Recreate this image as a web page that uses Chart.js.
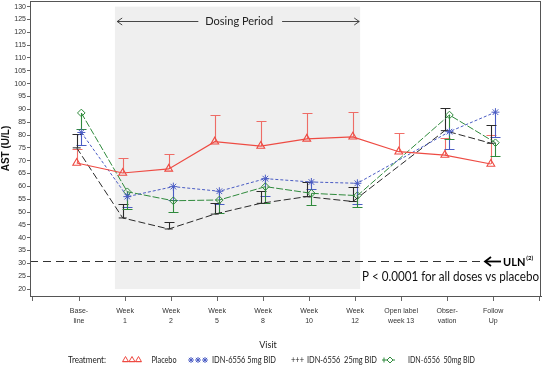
<!DOCTYPE html>
<html><head><meta charset="utf-8">
<script src="https://cdn.jsdelivr.net/npm/chart.js@4/dist/chart.umd.min.js"></script>
<style>html,body{margin:0;padding:0;background:#fff}</style>
</head><body>
<canvas id="c" width="544" height="365"></canvas>
<script>
// ---- data ----
const categories = [['Base-','line'],['Week','1'],['Week','2'],['Week','5'],['Week','8'],['Week','10'],['Week','12'],['Open label','week 13'],['Obser-','vation'],['Follow','Up']];
const yTicks = [20,25,30,35,40,45,50,55,60,65,70,75,80,85,90,95,100,105,110,115,120,125,130];
const placebo      = [69.1, 65.2, 66.8, 77.4, 75.7, 78.5, 79.3, 73.5, 72.2, 68.7];
const placeboErr   = [74.6, 71.1, 72.6, 87.8, 85.5, 88.6, 89.1, 80.9, 79.0, 80.0];
const dose5        = [81.0, 56.0, 59.9, 58.1, 63.0, 61.7, 61.2, null, 81.3, 88.9];
const dose5Err     = [76.1, 52.0, 54.5, 53.1, 56.2, 58.9, 53.0, null, 74.5, 79.4];
const dose25       = [75.0, 47.7, 43.4, 49.2, 53.4, 56.0, 54.1, null, 81.7, 76.8];
const dose25Err    = [80.4, 53.1, 46.2, 53.6, 58.3, 61.8, 59.9, null, 90.7, 83.9];
const dose50       = [88.6, 57.9, 54.4, 54.7, 59.9, 57.3, 56.4, null, 87.8, 77.0];
const dose50Err    = [82.4, 51.2, 50.1, 49.8, 53.6, 52.7, 52.1, null, 78.4, 71.8];
const seriesNames  = ['Placebo','IDN-6556 5mg BID','IDN-6556  25mg BID','IDN-6556  50mg BID'];
const ulnValue = 31;
const dosingStart = 1.78, dosingEnd = 7.11;

// ---- styles ----
const RED = '#ee4b43', BLUE = '#4a5cc4', BLACK = '#2a2a2a', GREEN = '#2f8a3c';
function pts(arr, off){ return arr.map((v,i)=>({x:i+1+off, y:v})); }

const datasets = [
  {label:seriesNames[0], data:pts(placebo,-0.05), err:placeboErr, borderColor:RED, backgroundColor:'rgba(0,0,0,0)', borderWidth:1.2, pointStyle:'triangle', pointRadius:4.5, pointBorderWidth:1.1, pointBorderColor:RED, pointBackgroundColor:'rgba(0,0,0,0)', errColor:'rgba(238,75,67,0.8)'},
  {label:seriesNames[1], data:pts(dose5,0.05), err:dose5Err, borderColor:BLUE, borderDash:[3,2], borderWidth:1, pointStyle:'star', pointRadius:4, pointBorderWidth:1, pointBorderColor:BLUE, pointBackgroundColor:BLUE, spanGaps:true, errColor:BLUE},
  {label:seriesNames[2], data:pts(dose25,-0.05), err:dose25Err, borderColor:BLACK, borderDash:[7,3], borderWidth:1, pointStyle:'line', pointRadius:4, pointBorderWidth:1, pointBorderColor:BLACK, pointBackgroundColor:BLACK, spanGaps:true, errColor:BLACK},
  {label:seriesNames[3], data:pts(dose50,0.05), err:dose50Err, borderColor:GREEN, borderDash:[7,2], borderWidth:1, pointStyle:'rectRot', pointRadius:3.8, pointBorderWidth:1, pointBorderColor:GREEN, pointBackgroundColor:'rgba(0,0,0,0)', spanGaps:true, errColor:GREEN}
];
datasets.forEach(d=>{ d.tension=0; d.fill=false; });

// draw left-aligned text at a given font size, squeezed horizontally to a target width
function fitText(ctx, txt, x, y, w, size){
  ctx.font = size + 'px Lato';
  const m = ctx.measureText(txt).width;
  const sx = w / m;
  ctx.save();
  ctx.translate(x, y);
  ctx.scale(sx, 1);
  ctx.textAlign = 'left';
  ctx.fillText(txt, 0, 0);
  ctx.restore();
}

const decor = {
  id:'decor',
  beforeDatasetsDraw(chart){
    const {ctx, chartArea:a, scales:{x,y}} = chart;
    ctx.save();
    // dosing period shading
    const x1=x.getPixelForValue(dosingStart), x2=x.getPixelForValue(dosingEnd);
    const y1=y.getPixelForValue(130), y2=y.getPixelForValue(20);
    ctx.fillStyle='#efefef';
    ctx.fillRect(x1,y1,x2-x1,y2-y1);
    // ULN line
    const yu=Math.round(y.getPixelForValue(ulnValue))+0.5;
    ctx.strokeStyle='#333'; ctx.lineWidth=1; ctx.setLineDash([8,5]);
    ctx.beginPath(); ctx.moveTo(a.left,yu); ctx.lineTo(x.getPixelForValue(9.78),yu); ctx.stroke();
    ctx.setLineDash([]);
    // ULN arrow
    const ax1=485, ax2=501;
    ctx.strokeStyle='#000'; ctx.lineWidth=1.8;
    ctx.beginPath(); ctx.moveTo(ax2,yu); ctx.lineTo(ax1+1,yu); ctx.stroke();
    ctx.beginPath(); ctx.moveTo(ax1+6,yu-4.5); ctx.lineTo(ax1,yu); ctx.lineTo(ax1+6,yu+4.5); ctx.stroke();
    ctx.fillStyle='#000';
    ctx.font='bold 11px Lato'; ctx.textBaseline='middle'; ctx.textAlign='left';
    ctx.fillText('ULN',503,yu+0.5);
    const w=ctx.measureText('ULN').width;
    ctx.font='bold 6px Lato'; ctx.fillText('(2)',503+w+1,yu-3.5);
    // P value text
    ctx.fillStyle='#111';
    fitText(ctx,'P < 0.0001 for all doses vs placebo',362,y.getPixelForValue(24.6),177,12.5);
    // dosing period arrow
    const ya=Math.round(y.getPixelForValue(124.6))+0.5;
    const d1=x.getPixelForValue(1.83), d2=x.getPixelForValue(7.09);
    ctx.font='11px Lato'; ctx.textAlign='center'; ctx.fillStyle='#222';
    const cx=(d1+d2)/2+1;
    ctx.fillText('Dosing Period',cx,ya);
    const tw=ctx.measureText('Dosing Period').width;
    ctx.strokeStyle='#333'; ctx.lineWidth=0.9;
    ctx.beginPath(); ctx.moveTo(d1,ya); ctx.lineTo(cx-tw/2-7,ya); ctx.moveTo(cx+tw/2+9,ya); ctx.lineTo(d2,ya); ctx.stroke();
    ctx.beginPath(); ctx.moveTo(d1+5,ya-3.5); ctx.lineTo(d1,ya); ctx.lineTo(d1+5,ya+3.5);
    ctx.moveTo(d2-5,ya-3.5); ctx.lineTo(d2,ya); ctx.lineTo(d2-5,ya+3.5); ctx.stroke();
    // error bars
    chart.data.datasets.forEach(ds=>{
      ds.data.forEach((p,i)=>{
        const e=ds.err[i]; if(p.y==null||e==null) return;
        const px=Math.round(x.getPixelForValue(p.x))+0.5;
        const py=y.getPixelForValue(p.y), pe=Math.round(y.getPixelForValue(e))+0.5;
        ctx.strokeStyle=ds.errColor; ctx.lineWidth=1.1;
        ctx.beginPath(); ctx.moveTo(px,py); ctx.lineTo(px,pe); ctx.moveTo(px-5,pe); ctx.lineTo(px+5,pe); ctx.stroke();
      });
    });
    ctx.restore();
  },
  afterDraw(chart){
    const {ctx, chartArea:a} = chart;
    ctx.save();
    ctx.strokeStyle='#555'; ctx.lineWidth=1;
    ctx.strokeRect(a.left+0.5,a.top+0.5,a.right-a.left-1,a.bottom-a.top);
    // axis title Visit
    ctx.fillStyle='#222'; ctx.font='9px Lato'; ctx.textAlign='center'; ctx.textBaseline='middle';
    ctx.fillText('Visit',268,345);
    // legend
    const ly=360;
    fitText(ctx,'Treatment:',68,ly,38,9.5);
    const H = Chart.helpers;
    function pt(style,r,xx,col,fillCol){
      ctx.strokeStyle=col; ctx.fillStyle=fillCol; ctx.lineWidth=1;
      if(H && H.drawPoint) H.drawPoint(ctx,{pointStyle:style,radius:r,borderWidth:1,rotation:0},xx,ly);
    }
    // placebo
    ctx.strokeStyle=RED; ctx.lineWidth=1; ctx.beginPath(); ctx.moveTo(123,ly+1.5); ctx.lineTo(141,ly+1.5); ctx.stroke();
    [125.5,132,138.5].forEach(xx=>pt('triangle',3.5,xx,RED,'rgba(0,0,0,0)'));
    ctx.fillStyle='#222'; fitText(ctx,seriesNames[0],151.5,ly,25,9.5);
    [191,198,205].forEach(xx=>pt('star',3,xx,BLUE,BLUE));
    ctx.fillStyle='#222'; fitText(ctx,seriesNames[1],212,ly,64,9.5);
    fitText(ctx,'+++',291,ly,13,9.5);
    fitText(ctx,seriesNames[2],307,ly,70,9.5);
    ctx.strokeStyle=GREEN; ctx.lineWidth=1; ctx.beginPath(); ctx.moveTo(382,ly); ctx.lineTo(395,ly); ctx.stroke();
    ctx.beginPath(); ctx.moveTo(384,ly-2.5); ctx.lineTo(384,ly+2.5); ctx.stroke();
    pt('rectRot',3,390,GREEN,'#fff');
    ctx.fillStyle='#222'; fitText(ctx,seriesNames[3],408,ly,67,9.5);
    ctx.restore();
  }
};

new Chart(document.getElementById('c'), {
  type:'line',
  data:{datasets},
  options:{
    responsive:false, animation:false, events:[],
    layout:{padding:{top:1,right:3,left:0,bottom:0}, autoPadding:false},
    plugins:{legend:{display:false}, tooltip:{enabled:false}},
    scales:{
      x:{type:'linear', min:-0.065, max:11.04,
        afterBuildTicks(s){ s.ticks=[0,1,2,3,4,5,6,7,8,9,10,11].map(v=>({value:v})); },
        afterFit(s){ s.height=69; s.paddingLeft=0; s.paddingRight=0; },
        grid:{display:true, drawOnChartArea:false, drawTicks:true, tickLength:5, color:'#666'},
        border:{display:true,color:'#555'},
        ticks:{autoSkip:false, maxRotation:0, padding:5, color:'#333',
          font:{family:'Liberation Sans', size:7, lineHeight:1.4},
          callback(v){ return (v>=1&&v<=10)?categories[v-1]:''; }}
      },
      y:{type:'linear', min:17.3, max:132.2,
        afterBuildTicks(s){ s.ticks=yTicks.map(v=>({value:v})); },
        afterFit(s){ s.width=30; s.paddingTop=0; s.paddingBottom=0; },
        grid:{display:true, drawOnChartArea:false, drawTicks:true, tickLength:3, color:'#666'},
        border:{display:true,color:'#555'},
        title:{display:true, text:'AST (U/L)', font:{family:'Liberation Sans', size:10, weight:'bold'}, color:'#111', padding:{top:0,bottom:2}},
        ticks:{padding:1, color:'#333', font:{family:'Liberation Sans Narrow, Liberation Sans', size:7}}
      }
    }
  },
  plugins:[decor]
});
</script>
</body></html>
